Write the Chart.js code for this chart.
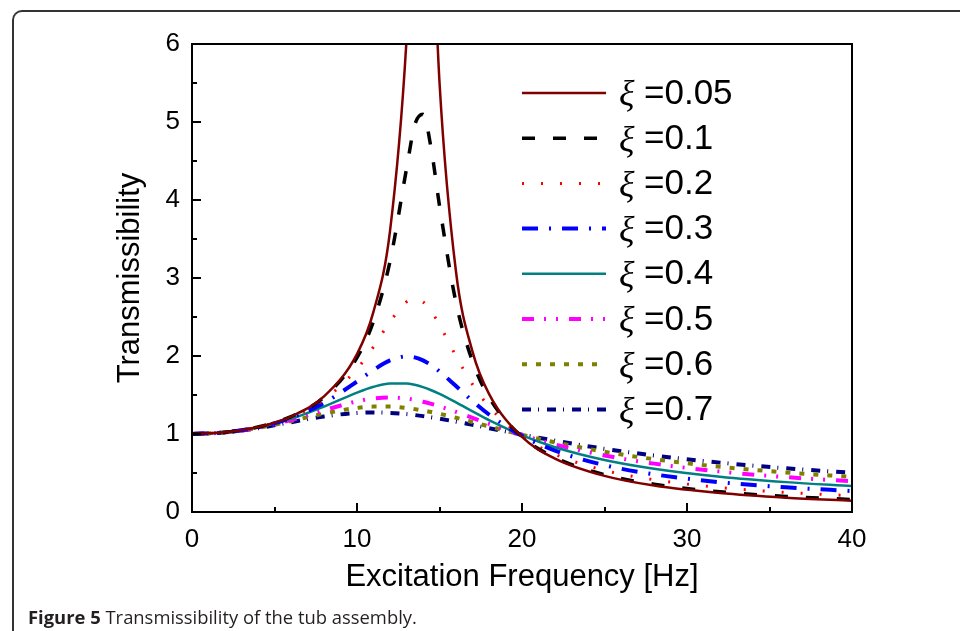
<!DOCTYPE html>
<html>
<head>
<meta charset="utf-8">
<script src="https://cdn.jsdelivr.net/npm/chart.js@4"></script>
<style>
  html, body { margin: 0; padding: 0; background: #fff; overflow: hidden; }
  body { width: 960px; height: 631px; position: relative; }
  #frame {
    position: absolute; left: 12px; top: 10px; width: 1000px; height: 700px;
    border-top: 2px solid #333; border-left: 2px solid #333;
    border-top-left-radius: 10px; box-sizing: border-box;
  }
  #wrap { position: absolute; left: 0; top: 0; width: 960px; height: 631px; }
  #caption {
    position: absolute; left: 28px; top: 604px; font-family: "Open Sans", sans-serif;
    font-size: 18.4px; color: #231f20; white-space: nowrap;
  }
  #caption b { font-weight: 700; }
</style>
</head>
<body>
<div id="frame"></div>
<div id="wrap"><canvas id="trChart"></canvas></div>
<div id="caption"><b>Figure 5</b> Transmissibility of the tub assembly.</div>
<script>
/* values */
const freq = [0, 2, 4, 6, 8, 10, 11, 12, 13, 13.5, 14, 14.5, 15, 16, 17, 18, 20, 22, 25, 28, 32, 36, 40];

const zeta005 = [1, 1.021, 1.089, 1.224, 1.482, 2.025, 2.568, 3.600, 6.05, 8.43, 10.05, 7.94, 5.51, 3.080, 2.057, 1.515, 0.962, 0.685, 0.463, 0.339, 0.243, 0.184, 0.145];
const zeta01  = [1, 1.021, 1.089, 1.223, 1.473, 1.980, 2.447, 3.212, 4.399, 4.963, 5.099, 4.652, 3.927, 2.685, 1.931, 1.471, 0.964, 0.698, 0.479, 0.356, 0.259, 0.200, 0.160];
const zeta02  = [1, 1.021, 1.088, 1.216, 1.442, 1.834, 2.117, 2.439, 2.693, 2.734, 2.693, 2.573, 2.400, 1.999, 1.637, 1.353, 0.970, 0.739, 0.534, 0.413, 0.314, 0.251, 0.209];
const zeta03  = [1, 1.021, 1.086, 1.206, 1.399, 1.672, 1.821, 1.943, 1.995, 1.982, 1.944, 1.882, 1.802, 1.615, 1.423, 1.250, 0.977, 0.787, 0.601, 0.483, 0.382, 0.316, 0.269];
const zeta04  = [1, 1.021, 1.084, 1.194, 1.351, 1.530, 1.605, 1.649, 1.649, 1.631, 1.601, 1.561, 1.514, 1.405, 1.290, 1.177, 0.982, 0.831, 0.667, 0.555, 0.453, 0.383, 0.332];
const zeta05  = [1, 1.020, 1.081, 1.180, 1.304, 1.419, 1.455, 1.468, 1.454, 1.437, 1.414, 1.387, 1.355, 1.284, 1.207, 1.130, 0.987, 0.866, 0.725, 0.620, 0.519, 0.447, 0.393];
const zeta06  = [1, 1.020, 1.078, 1.166, 1.262, 1.334, 1.351, 1.351, 1.334, 1.319, 1.302, 1.281, 1.259, 1.208, 1.153, 1.097, 0.990, 0.893, 0.772, 0.677, 0.580, 0.507, 0.450];
const zeta07  = [1, 1.020, 1.075, 1.151, 1.225, 1.270, 1.276, 1.271, 1.255, 1.243, 1.229, 1.213, 1.196, 1.158, 1.118, 1.075, 0.992, 0.914, 0.810, 0.725, 0.633, 0.560, 0.503];

const zetaLabels = ["0.05", "0.1", "0.2", "0.3", "0.4", "0.5", "0.6", "0.7"];
const seriesValues = [zeta005, zeta01, zeta02, zeta03, zeta04, zeta05, zeta06, zeta07];

const xTicks = [0, 10, 20, 30, 40];
const yTicks = [0, 1, 2, 3, 4, 5, 6];

// line looks per series
const styles = [
    { color: "#800000", width: 2.5, dash: [] },
    { color: "#000000", width: 3.5, dash: [13, 18] },
    { color: "#ff0000", width: 3, dash: [2, 17] },
    { color: "#0000ff", width: 4, dash: [16, 11, 2, 11] },
    { color: "#008080", width: 2.5, dash: [] },
    { color: "#ff00ff", width: 4, dash: [12, 10, 2, 10, 2, 11] },
    { color: "#808000", width: 4, dash: [5, 9] },
    { color: "#000080", width: 4, dash: [9, 7, 1, 8] },
];

const FONT = "'Liberation Sans', Arial, Helvetica, sans-serif";

/* inward ticks + box frame */
const frameTicks = {
    id: "frameTicks",
    afterDraw(chart) {
        const { ctx, chartArea: a, scales } = chart;
        const xs = scales.x, ys = scales.y;
        ctx.save();
        ctx.strokeStyle = "#000";
        ctx.lineWidth = 2;
        ctx.strokeRect(a.left, a.top, a.right - a.left, a.bottom - a.top);
        for (let v = 0; v <= 40; v += 5) {
            const px = Math.round(xs.getPixelForValue(v));
            const len = v % 10 === 0 ? 9 : 5;
            ctx.beginPath();
            ctx.moveTo(px, a.bottom);
            ctx.lineTo(px, a.bottom - len);
            ctx.stroke();
        }
        for (let v = 0; v <= 6; v += 0.5) {
            const py = Math.round(ys.getPixelForValue(v));
            const len = v % 1 === 0 ? 9 : 5;
            ctx.beginPath();
            ctx.moveTo(a.left, py);
            ctx.lineTo(a.left + len, py);
            ctx.stroke();
        }
        ctx.restore();
    }
};

/* legend: line sample, italic xi, value */
const zetaLegend = {
    id: "zetaLegend",
    afterDraw(chart) {
        const ctx = chart.ctx;
        ctx.save();
        chart.data.datasets.forEach((ds, i) => {
            const y = 93 + i * 45.2;
            ctx.beginPath();
            ctx.setLineDash(ds.borderDash || []);
            ctx.strokeStyle = ds.borderColor;
            ctx.lineWidth = ds.borderWidth;
            ctx.moveTo(522, y);
            ctx.lineTo(606, y);
            ctx.stroke();
            ctx.setLineDash([]);
            ctx.fillStyle = "#000";
            ctx.textBaseline = "middle";
            ctx.textAlign = "left";
            ctx.font = "italic 36px 'Liberation Serif', 'Times New Roman', serif";
            ctx.fillText("\u03BE", 619, y + 3);
            ctx.font = "35px " + FONT;
            ctx.fillText("=" + zetaLabels[i], 644, y + 1);
        });
        ctx.restore();
    }
};

const datasets = seriesValues.map((vals, i) => ({
    label: "\u03BE =" + zetaLabels[i],
    data: freq.map((f, k) => ({ x: f, y: vals[k] })),
    borderColor: styles[i].color,
    backgroundColor: styles[i].color,
    borderWidth: styles[i].width,
    borderDash: styles[i].dash,
    pointRadius: 0,
    fill: false,
    cubicInterpolationMode: "monotone",
}));

new Chart(document.getElementById("trChart"), {
    type: "line",
    data: { datasets },
    options: {
        responsive: true,
        maintainAspectRatio: false,
        animation: false,
        layout: { padding: { left: 0, top: 44, right: 108, bottom: 29 } },
        plugins: { legend: { display: false }, tooltip: { enabled: false } },
        scales: {
            x: {
                type: "linear", min: 0, max: 40,
                afterFit: (s) => { s.height = 90; },
                afterBuildTicks: (s) => { s.ticks = xTicks.map(v => ({ value: v })); },
                grid: { drawOnChartArea: false, drawTicks: false },
                border: { display: true, color: "#000", width: 2 },
                ticks: { color: "#000", padding: 12, font: { family: FONT, size: 26 } },
                title: {
                    display: true, text: "Excitation Frequency [Hz]", color: "#000",
                    font: { family: FONT, size: 31 }, padding: { top: 0, bottom: 6 }
                }
            },
            y: {
                type: "linear", min: 0, max: 6,
                afterFit: (s) => { s.width = 192; },
                afterBuildTicks: (s) => { s.ticks = yTicks.map(v => ({ value: v })); },
                grid: { drawOnChartArea: false, drawTicks: false },
                border: { display: true, color: "#000", width: 2 },
                ticks: { color: "#000", padding: 12, font: { family: FONT, size: 26 } },
                title: {
                    display: true, text: "Transmissibility", color: "#000",
                    font: { family: FONT, size: 31 }, padding: { top: 112, bottom: 0 }
                }
            }
        }
    },
    plugins: [frameTicks, zetaLegend]
});
</script>
</body>
</html>
